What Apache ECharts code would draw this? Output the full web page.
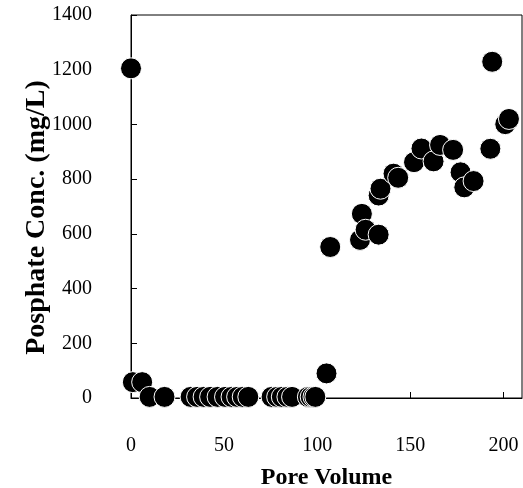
<!DOCTYPE html>
<html>
<head>
<meta charset="utf-8">
<script src="https://cdn.jsdelivr.net/npm/echarts@6/dist/echarts.min.js"></script>
<style>
html,body{margin:0;padding:0;background:#fff;}
#chart{width:523px;height:488px;}
</style>
</head>
<body>
<div id="chart"></div>
<script>
const poreVolume = [0, 1, 6, 10, 18, 32, 35.5, 39, 42.5, 46.5, 50.5, 54, 57, 60, 63, 75.5, 78.5, 81, 84, 86.5, 95, 96.5, 98, 99, 105, 107, 123, 124, 126, 133, 133, 134, 141, 143.5, 152, 156, 162.5, 166, 173, 177, 179, 184, 193, 194, 201, 203];
const phosphate = [1205, 58, 58, 4, 4, 4, 4, 4, 4, 4, 4, 4, 4, 4, 4, 4, 4, 4, 4, 4, 4, 4, 4, 4, 90, 552, 578, 673, 615, 597, 740, 765, 820, 805, 862, 912, 865, 925, 907, 825, 770, 793, 911, 1229, 1001, 1020];
const xTitle = 'Pore Volume';
const yTitle = 'Posphate Conc. (mg/L)';

const points = poreVolume.map((v, i) => [v, phosphate[i]]);
const font = 'Liberation Serif';

const chart = echarts.init(document.getElementById('chart'));
chart.setOption({
  animation: false,
  grid: {left: 131, right: 1, top: 15, bottom: 90, show: true, borderColor: '#000', borderWidth: 1,
    containLabel: false, outerBoundsMode: 'none'},
  xAxis: {
    type: 'value', min: 0, max: 210, interval: 50,
    name: xTitle, nameLocation: 'middle', nameGap: 68, nameMoveOverlap: false,
    nameTextStyle: {fontFamily: font, fontSize: 24, fontWeight: 'bold', color: '#000'},
    axisLine: {show: true, lineStyle: {color: '#000', width: 1}},
    axisTick: {show: true, inside: true, length: 6, lineStyle: {color: '#000'}},
    axisLabel: {fontFamily: font, fontSize: 20, color: '#000', margin: 38, showMaxLabel: false,
      formatter: v => (v % 50 === 0 ? String(v) : '')},
    splitLine: {show: false}
  },
  yAxis: {
    type: 'value', min: 0, max: 1400, interval: 200,
    name: yTitle, nameLocation: 'middle', nameGap: 80, nameMoveOverlap: false,
    nameTextStyle: {fontFamily: font, fontSize: 28, fontWeight: 'bold', color: '#000', padding: [0, 22, 0, 0]},
    axisLine: {show: true, lineStyle: {color: '#000', width: 1}},
    axisTick: {show: true, inside: true, length: 6, lineStyle: {color: '#000'}},
    axisLabel: {fontFamily: font, fontSize: 20, color: '#000', margin: 39, formatter: v => String(v)},
    splitLine: {show: false}
  },
  series: [{
    type: 'scatter',
    data: points,
    symbol: 'circle',
    symbolSize: 21,
    itemStyle: {color: '#000', borderColor: '#fff', borderWidth: 1, opacity: 1}
  }]
});
</script>
</body>
</html>
